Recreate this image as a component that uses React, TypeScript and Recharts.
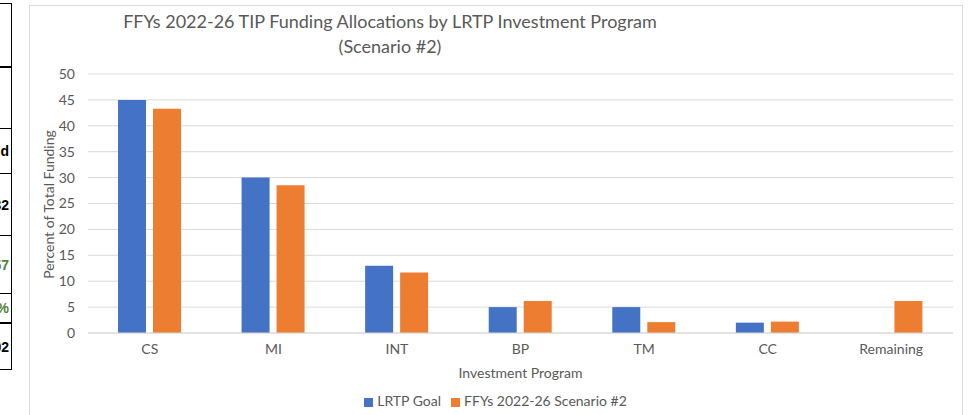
import { BarChart, Bar, XAxis, YAxis, CartesianGrid, Legend } from 'recharts'

const categories = ['CS', 'MI', 'INT', 'BP', 'TM', 'CC', 'Remaining']
const lrtpGoal = [45, 30, 13, 5, 5, 2, null]
const scenario2 = [43.3, 28.5, 11.7, 6.2, 2.1, 2.2, 6.2]
const yTicks = [0, 5, 10, 15, 20, 25, 30, 35, 40, 45, 50]

// clipped fragment of the neighbouring table (only the last characters show)
const tableRows = [
  { top: 3, bottom: 66, text: '' },
  { top: 66, bottom: 128, text: '' },
  { top: 128, bottom: 173, text: 'd' },
  { top: 173, bottom: 235, text: '32' },
  { top: 235, bottom: 293, text: '57', green: true },
  { top: 293, bottom: 322, text: '%', green: true },
  { top: 322, bottom: 370, text: '02' },
]

const data = categories.map((name, i) => ({
  name,
  goal: lrtpGoal[i],
  scenario: scenario2[i],
}))

const FONT = 'Lato, "Open Sans", sans-serif'
const TEXT = '#595959'

function TableFragment() {
  return (
    <div style={{ position: 'absolute', left: 0, top: 0, width: 13, height: 372, overflow: 'hidden' }}>
      {tableRows.map((r, i) => (
        <div
          key={i}
          style={{
            position: 'absolute',
            left: -60,
            width: 72,
            top: r.top,
            height: r.bottom - r.top,
            borderTop: i === 1 || i === 6 ? '2px solid #000' : '1px solid #000',
            borderBottom: i === tableRows.length - 1 ? '1px solid #000' : 'none',
            borderRight: '1px solid #000',
            boxSizing: 'border-box',
          }}
        >
          <span
            style={{
              position: 'absolute',
              right: 2,
              top: '50%',
              transform: 'translateY(-50%)',
              whiteSpace: 'nowrap',
              fontFamily: 'Arial, "Liberation Sans", sans-serif',
              fontWeight: 'bold',
              fontSize: 14,
              color: r.green ? '#538135' : '#000',
            }}
          >
            {r.text}
          </span>
        </div>
      ))}
    </div>
  )
}

export default function App() {
  return (
    <div style={{ position: 'absolute', left: 0, top: 0, width: 974, height: 415, overflow: 'hidden', background: '#fff' }}>
      <TableFragment />
      <div
        style={{
          position: 'absolute',
          left: 29,
          top: 5,
          width: 934,
          height: 420,
          border: '1px solid #d9d9d9',
          boxSizing: 'border-box',
          fontFamily: FONT,
        }}
      >
        <div
          style={{
            position: 'absolute',
            left: 60,
            top: 3,
            width: 600,
            textAlign: 'center',
            fontSize: 18,
            lineHeight: '25px',
            color: TEXT,
            zIndex: 1,
          }}
        >
          FFYs 2022-26 TIP Funding Allocations by LRTP Investment Program
          <br />
          (Scenario #2)
        </div>
        <BarChart
          width={932}
          height={409}
          data={data}
          margin={{ top: 68, right: 9, bottom: 32, left: 18 }}
          barSize={28}
          barGap={7}
        >
          <CartesianGrid vertical={false} stroke="#d9d9d9" />
          <XAxis
            dataKey="name"
            height={50}
            axisLine={{ stroke: '#d9d9d9' }}
            tickLine={false}
            tickSize={0}
            tickMargin={11}
            tick={{ fill: TEXT, fontSize: 14, fontFamily: FONT }}
            label={{
              content: ({ viewBox }: any) => (
                <text
                  x={viewBox.x + viewBox.width / 2}
                  y={viewBox.y + 39}
                  textAnchor="middle"
                  dominantBaseline="central"
                  fill={TEXT}
                  fontSize={14}
                  fontFamily={FONT}
                >
                  Investment Program
                </text>
              ),
            }}
          />
          <YAxis
            width={40}
            domain={[0, 50]}
            ticks={yTicks}
            axisLine={false}
            tickLine={false}
            tickSize={0}
            tickMargin={13}
            tick={{ fill: TEXT, fontSize: 14, fontFamily: FONT }}
            label={{
              content: ({ viewBox }: any) => {
                const cx = 18
                const cy = viewBox.y + viewBox.height / 2 + 1
                return (
                  <text
                    x={cx}
                    y={cy}
                    transform={`rotate(-90 ${cx} ${cy})`}
                    textAnchor="middle"
                    dominantBaseline="central"
                    fill={TEXT}
                    fontSize={14}
                    fontFamily={FONT}
                  >
                    Percent of Total Funding
                  </text>
                )
              },
            }}
          />
          <Legend
            verticalAlign="middle"
            align="center"
            iconType="square"
            iconSize={9}
            itemSorter="dataKey"
            wrapperStyle={{ top: 386, fontSize: 14, fontFamily: FONT }}
            formatter={(value: string) => <span style={{ color: TEXT }}>{value}</span>}
          />
          <Bar dataKey="goal" name="LRTP Goal" fill="#4472C4" isAnimationActive={false} />
          <Bar dataKey="scenario" name="FFYs 2022-26 Scenario #2" fill="#ED7D31" isAnimationActive={false} />
        </BarChart>
      </div>
    </div>
  )
}
